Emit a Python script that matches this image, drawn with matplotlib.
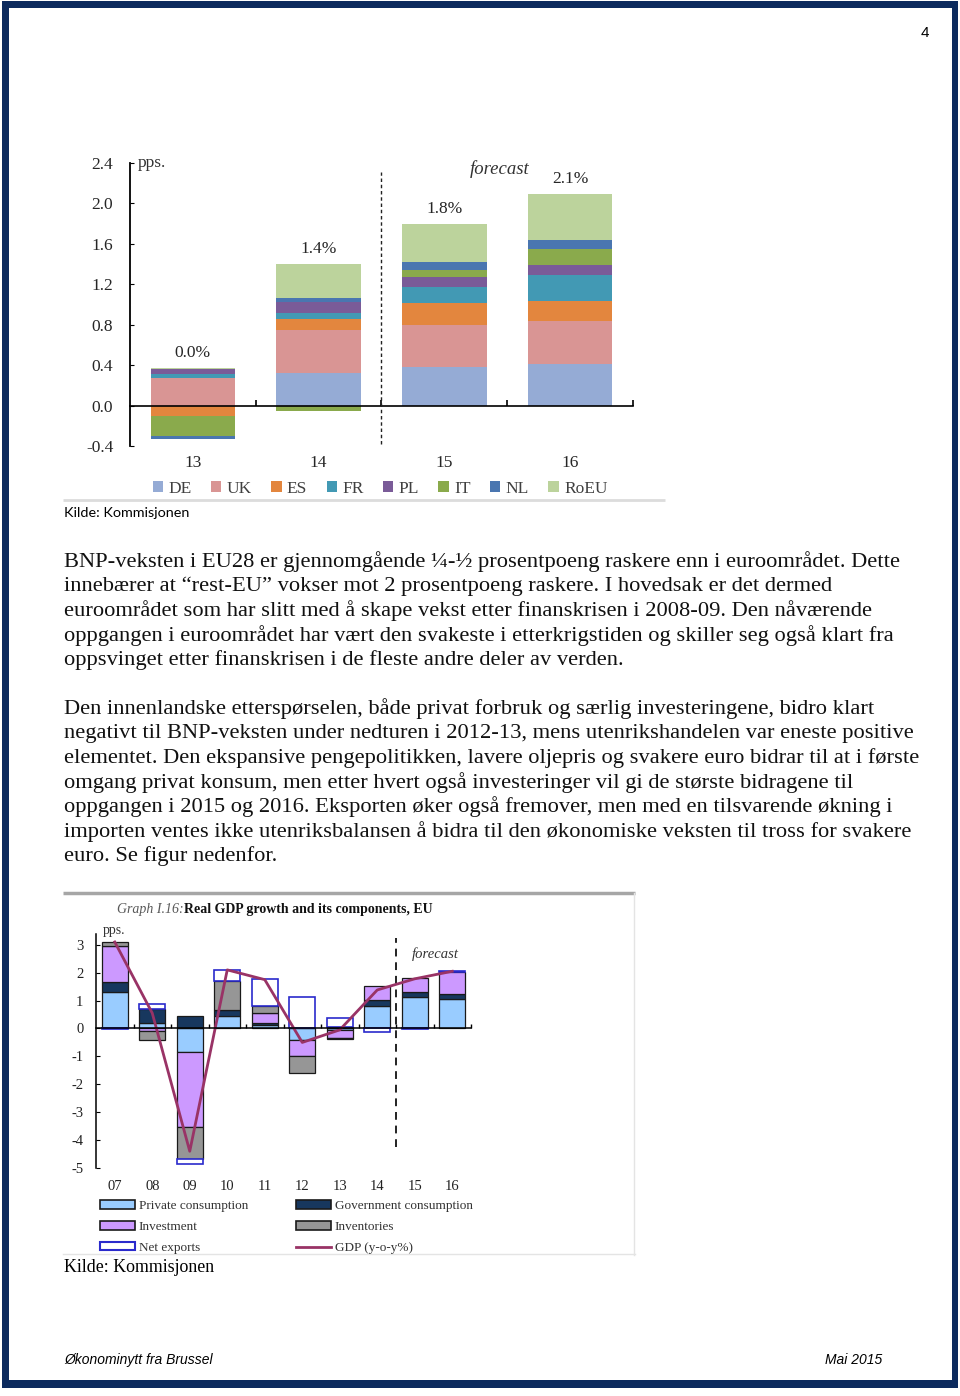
import matplotlib
matplotlib.use('Agg')
import matplotlib.pyplot as plt
import numpy as np
from matplotlib.patches import Rectangle, Patch
from matplotlib.lines import Line2D

plt.rcParams['axes.unicode_minus'] = False
SERIF = 'Liberation Serif'

# ---------------- data: chart 1 (contributions by country, pps.) ----------------
years1 = ['13', '14', '15', '16']
countries = ['DE', 'UK', 'ES', 'FR', 'PL', 'IT', 'NL', 'RoEU']
DE = [0.0, 0.325, 0.38, 0.415]
UK = [0.275, 0.425, 0.415, 0.42]
ES = [-0.10, 0.105, 0.215, 0.20]
FR = [0.04, 0.065, 0.165, 0.255]
PL = [0.05, 0.10, 0.095, 0.10]
IT = [-0.20, -0.055, 0.075, 0.16]
NL = [-0.035, 0.04, 0.08, 0.085]
RoEU = [0.01, 0.34, 0.37, 0.46]
totals1 = ['0.0%', '1.4%', '1.8%', '2.1%']
yticks1 = [-0.4, 0.0, 0.4, 0.8, 1.2, 1.6, 2.0, 2.4]

# ---------------- data: chart 2 (Real GDP growth and its components, EU) ----------------
years2 = ['07', '08', '09', '10', '11', '12', '13', '14', '15', '16']
private_cons = [1.29, 0.21, -0.84, 0.45, 0.14, -0.43, -0.05, 0.80, 1.13, 1.05]
government_cons = [0.36, 0.48, 0.43, 0.21, 0.05, 0.02, 0.05, 0.23, 0.19, 0.18]
investment = [1.31, -0.08, -2.69, 0.0, 0.38, -0.56, -0.28, 0.48, 0.50, 0.80]
inventories = [0.14, -0.33, -1.16, 1.05, 0.24, -0.61, -0.06, 0.0, 0.0, 0.0]
net_exports = [-0.02, 0.19, -0.16, 0.38, 0.95, 1.10, 0.34, -0.12, -0.02, 0.03]
gdp = [3.1, 0.55, -4.4, 2.1, 1.75, -0.5, -0.05, 1.38, 1.78, 2.05]
yticks2 = [-5, -4, -3, -2, -1, 0, 1, 2, 3]
labels2 = ['Private consumption', 'Government consumption', 'Investment',
           'Inventories', 'Net exports', 'GDP (y-o-y%)']

# ---------------- page text ----------------
para1 = [
    "BNP-veksten i EU28 er gjennomgående ¼-½ prosentpoeng raskere enn i euroområdet. Dette",
    "innebærer at “rest-EU” vokser mot 2 prosentpoeng raskere. I hovedsak er det dermed",
    "euroområdet som har slitt med å skape vekst etter finanskrisen i 2008-09. Den nåværende",
    "oppgangen i euroområdet har vært den svakeste i etterkrigstiden og skiller seg også klart fra",
    "oppsvinget etter finanskrisen i de fleste andre deler av verden.",
]
para2 = [
    "Den innenlandske etterspørselen, både privat forbruk og særlig investeringene, bidro klart",
    "negativt til BNP-veksten under nedturen i 2012-13, mens utenrikshandelen var eneste positive",
    "elementet. Den ekspansive pengepolitikken, lavere oljepris og svakere euro bidrar til at i første",
    "omgang privat konsum, men etter hvert også investeringer vil gi de største bidragene til",
    "oppgangen i 2015 og 2016. Eksporten øker også fremover, men med en tilsvarende økning i",
    "importen ventes ikke utenriksbalansen å bidra til den økonomiske veksten til tross for svakere",
    "euro. Se figur nedenfor.",
]

W, H = 960, 1396
fig = plt.figure(figsize=(W / 100, H / 100), dpi=100)
renderer = fig.canvas.get_renderer()

page = fig.add_axes([0, 0, 1, 1])
page.set_xlim(0, W)
page.set_ylim(H, 0)
page.axis('off')

navy = '#0c2a5e'
page.add_patch(Rectangle((2, 1), 956, 1387, facecolor=navy, edgecolor='none'))
page.add_patch(Rectangle((9, 8), 943, 1372, facecolor='white', edgecolor='none'))


def fit_text(x, y, s, width, size0=10, **kw):
    t = page.text(x, y, s, fontsize=size0, **kw)
    w = t.get_window_extent(renderer).width
    t.set_fontsize(size0 * width / w)
    return t


def frac(l, t, r, b):
    return [l / W, 1 - b / H, (r - l) / W, (b - t) / H]


# header / footer
page.text(925, 33, '4', fontsize=11, family='Liberation Sans', ha='center', va='center')
fit_text(64, 1360, 'Økonominytt fra Brussel', 149, family='Liberation Sans',
         style='italic', va='center', ha='left')
fit_text(882, 1360, 'Mai 2015', 57, family='Liberation Sans', style='italic',
         va='center', ha='right')

# paragraphs
t0 = page.text(64, 0, para1[0], fontsize=10, family=SERIF)
psize = 10 * 833 / t0.get_window_extent(renderer).width
t0.remove()
for i, line in enumerate(para1):
    page.text(64, 562 + 24.5 * i, line, fontsize=psize, family=SERIF,
              va='center', ha='left', color='#111111')
for i, line in enumerate(para2):
    page.text(64, 709 + 24.5 * i, line, fontsize=psize, family=SERIF,
              va='center', ha='left', color='#111111')

fit_text(64, 513, 'Kilde: Kommisjonen', 126, family='Lato', va='center', ha='left')
fit_text(64, 1267, 'Kilde: Kommisjonen', 150, family=SERIF, va='center', ha='left')

# decorative frame lines of the pasted images
page.plot([63, 665], [500, 500], color='#dcdcdc', lw=2, solid_capstyle='butt')
page.plot([63, 635], [893, 893], color='#a6a6a6', lw=2.5, solid_capstyle='butt')
page.plot([634, 634], [893, 1255], color='#e4e4e4', lw=1)
page.plot([63, 635], [1254, 1254], color='#e4e4e4', lw=1)

# ================= chart 1 =================
ax1 = fig.add_axes(frac(130, 163, 633, 446))
ax1.set_facecolor('none')
ax1.set_xlim(-0.5, 3.5)
ax1.set_ylim(-0.4, 2.4)
colors1 = ['#95abd5', '#d99594', '#e3863e', '#4299b4', '#7a5b98', '#8aaa4c', '#4a76b0', '#bcd39c']
series1 = [DE, UK, ES, FR, PL, IT, NL, RoEU]
x1 = np.arange(len(years1))
pos = np.zeros(len(years1))
neg = np.zeros(len(years1))
handles1 = []
for vals, c, name in zip(series1, colors1, countries):
    v = np.array(vals, dtype=float)
    bottom = np.where(v >= 0, pos, neg)
    ax1.bar(x1, v, 0.67, bottom=bottom, color=c, edgecolor='none', zorder=2)
    pos += np.where(v > 0, v, 0)
    neg += np.where(v < 0, v, 0)
    handles1.append(Patch(facecolor=c, edgecolor='none', label=name))

for i, lab in enumerate(totals1):
    ax1.text(x1[i], pos[i] + 0.15, lab, ha='center', va='center', family=SERIF,
             fontsize=12.5, color='#262626')
for i, lab in enumerate(years1):
    ax1.text(x1[i], -0.565, lab, ha='center', va='center', family=SERIF,
             fontsize=12.5, color='#262626', clip_on=False)

for s in ['top', 'right']:
    ax1.spines[s].set_visible(False)
ax1.spines['bottom'].set_position(('data', 0))
ax1.spines['bottom'].set_linewidth(1.2)
ax1.spines['left'].set_linewidth(1.3)
ax1.set_yticks(yticks1)
ax1.set_yticklabels(['%.1f' % v for v in yticks1], family=SERIF)
ax1.tick_params(axis='y', direction='in', length=3, pad=12, labelsize=12.5, labelcolor='#262626')
ax1.set_xticks([0.5, 1.5, 2.5, 3.5])
ax1.set_xticklabels([])
ax1.tick_params(axis='x', direction='in', length=4, width=1.2)
ax1.plot([1.5, 1.5], [-0.38, 2.31], color='#222222', lw=1, ls=(0, (2.5, 2)), zorder=3)
ax1.text(2.44, 2.34, 'forecast', style='italic', family=SERIF, fontsize=13.5,
         ha='center', va='center', color='#333333')
ax1.text(-0.436, 2.4, 'pps.', family=SERIF, fontsize=12.5, ha='left', va='center',
         color='#333333', clip_on=False)
leg1 = ax1.legend(handles=handles1, ncol=8, loc='center',
                  bbox_to_anchor=(380 / W, 1 - 489 / H), bbox_transform=fig.transFigure,
                  frameon=False, handlelength=0.6, handleheight=0.6, handletextpad=0.3,
                  columnspacing=1.12, prop={'family': SERIF, 'size': 12.5},
                  borderpad=0, borderaxespad=0)
for t in leg1.get_texts():
    t.set_color('#404040')

# ================= chart 2 =================
ax2 = fig.add_axes(frac(96, 933.6, 471, 1168))
ax2.set_facecolor('none')
ax2.set_xlim(-0.5, 9.5)
ax2.set_ylim(-5, 3.4)
x2 = np.arange(len(years2))
series2 = [private_cons, government_cons, investment, inventories, net_exports]
fc2 = ['#99ccff', '#17375e', '#cc99ff', '#969696', 'white']
ec2 = ['#1a1a1a', '#1a1a1a', '#1a1a1a', '#1a1a1a', '#2a2acc']
lw2 = [0.9, 0.9, 0.9, 0.9, 1.2]
pos = np.zeros(len(years2))
neg = np.zeros(len(years2))
handles2 = []
for vals, fc, ec, lw, name in zip(series2, fc2, ec2, lw2, labels2[:5]):
    v = np.array(vals, dtype=float)
    bottom = np.where(v >= 0, pos, neg)
    m = v != 0
    ax2.bar(x2[m], v[m], 0.69, bottom=bottom[m], facecolor=fc, edgecolor=ec,
            linewidth=lw, zorder=2)
    pos += np.where(v > 0, v, 0)
    neg += np.where(v < 0, v, 0)
    handles2.append(Patch(facecolor=fc, edgecolor=ec, linewidth=lw + 0.3, label=name))
ax2.plot(x2, gdp, color='#993366', lw=2, zorder=4)
handles2.append(Line2D([], [], color='#993366', lw=2, label=labels2[5]))

for s in ['top', 'right']:
    ax2.spines[s].set_visible(False)
ax2.spines['bottom'].set_position(('data', 0))
ax2.spines['bottom'].set_linewidth(1.1)
ax2.spines['left'].set_linewidth(1.1)
ax2.spines['bottom'].set_zorder(5)
ax2.set_yticks(yticks2)
ax2.set_yticklabels([str(v) for v in yticks2], family=SERIF)
ax2.tick_params(axis='y', direction='in', length=3, pad=9, labelsize=10.5, labelcolor='#222222')
ax2.set_xticks(np.arange(0.5, 10, 1.0))
ax2.set_xticklabels([])
ax2.tick_params(axis='x', direction='in', length=3, width=1)
for i, lab in enumerate(years2):
    ax2.text(x2[i], -5.66, lab, ha='center', va='center', family=SERIF,
             fontsize=10.5, color='#222222', clip_on=False)
ax2.plot([7.5, 7.5], [-4.23, 3.26], color='#222222', lw=1.4, ls=(0, (4, 3)), zorder=3)
ax2.text(8.54, 2.65, 'forecast', style='italic', family=SERIF, fontsize=10.5,
         ha='center', va='center', color='#333333')
ax2.text(-0.33, 3.51, 'pps.', family=SERIF, fontsize=10, ha='left', va='center',
         color='#333333', clip_on=False)

order = [0, 2, 4, 1, 3, 5]
leg2 = ax2.legend(handles=[handles2[k] for k in order], ncol=2, loc='upper left',
                  bbox_to_anchor=(100 / W, 1 - 1200 / H), bbox_transform=fig.transFigure,
                  frameon=False, handlelength=2.65, handleheight=0.6, handletextpad=0.3,
                  columnspacing=3.6, labelspacing=0.68, prop={'family': SERIF, 'size': 9.5},
                  borderpad=0, borderaxespad=0)
for t in leg2.get_texts():
    t.set_color('#333333')

# title of chart 2
tA = page.text(117, 909, 'Graph I.16:', family=SERIF, style='italic', fontsize=10,
               color='#595959', va='center', ha='left')
wA = tA.get_window_extent(renderer).width
page.text(117 + wA, 909, 'Real GDP growth and its components, EU', family=SERIF,
          weight='bold', fontsize=10, color='#111111', va='center', ha='left')

fig.savefig('out.png', dpi=100)
